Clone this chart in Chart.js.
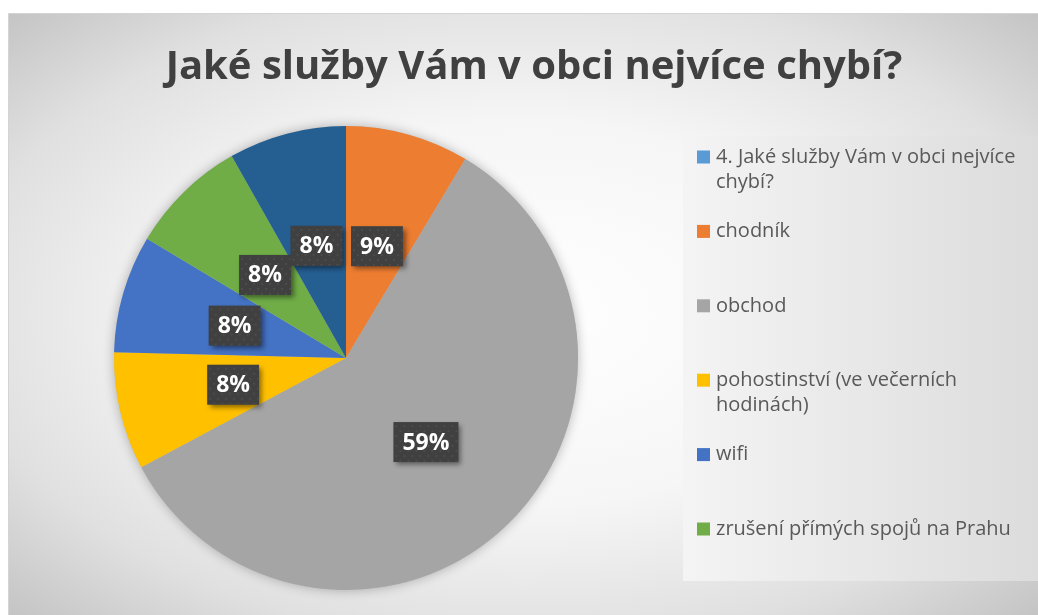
<!DOCTYPE html>
<html>
<head>
<meta charset="utf-8">
<title>Jaké služby Vám v obci nejvíce chybí?</title>
<script src="https://cdn.jsdelivr.net/npm/chart.js@4"></script>
<style>
  html, body { margin: 0; padding: 0; background: #fff; }
</style>
</head>
<body>
<canvas id="chart" width="1038" height="615"></canvas>
<script>
const chartTitle = 'Jaké služby Vám v obci nejvíce chybí?';
const categories = [
  '4. Jaké služby Vám v obci nejvíce chybí?',
  'chodník',
  'obchod',
  'pohostinství (ve večerních hodinách)',
  'wifi',
  'zrušení přímých spojů na Prahu',
  ''
];
const shares = [0, 8.6, 58.6, 8.2, 8.2, 8.2, 8.2];
const sliceColors = ['#5B9BD5', '#ED7D31', '#A5A5A5', '#FFC000', '#4472C4', '#70AD47', '#255E91'];
const legendShown = 6; // the rest of the legend is cut off in the original

const total = shares.reduce((a, b) => a + b, 0);

// grey radial backdrop + lighter legend panel
const backdrop = {
  id: 'backdrop',
  beforeDraw(chart) {
    const ctx = chart.ctx;
    ctx.save();
    ctx.fillStyle = '#fff';
    ctx.fillRect(0, 0, chart.width, chart.height);

    ctx.save();
    ctx.translate(523, 314);
    ctx.scale(515, 301);
    const g = ctx.createRadialGradient(0, 0, 0, 0, 0, 1.414);
    g.addColorStop(0, '#ffffff');
    g.addColorStop(0.45, '#f6f6f6');
    g.addColorStop(0.77, '#e0e0e0');
    g.addColorStop(1, '#c4c4c4');
    ctx.fillStyle = g;
    ctx.fillRect(-1, -1, 2, 2);
    ctx.restore();

    ctx.strokeStyle = '#d4d4d4';
    ctx.lineWidth = 1;
    ctx.strokeRect(8.5, 13.5, 1040, 610);

    const lg = ctx.createLinearGradient(683, 0, 1038, 0);
    lg.addColorStop(0, '#f4f4f4');
    lg.addColorStop(1, '#dcdcdc');
    ctx.fillStyle = lg;
    ctx.fillRect(683, 136, 360, 445);

    // title
    ctx.fillStyle = '#404040';
    ctx.font = 'bold 40px "Open Sans"';
    ctx.textAlign = 'center';
    ctx.textBaseline = 'alphabetic';
    ctx.fillText(chartTitle, 534, 79, 742);
    ctx.restore();
  }
};

// soft shadow under the pie
const pieShadow = {
  id: 'pieShadow',
  beforeDatasetsDraw(chart) {
    const arc = chart.getDatasetMeta(0).data[1];
    if (!arc) return;
    const ctx = chart.ctx;
    ctx.save();
    ctx.shadowColor = 'rgba(0,0,0,0.28)';
    ctx.shadowBlur = 12;
    ctx.fillStyle = '#bbb';
    ctx.beginPath();
    ctx.arc(arc.x, arc.y, arc.outerRadius, 0, Math.PI * 2);
    ctx.fill();
    ctx.restore();
  }
};

// dark percentage boxes
const sliceLabels = {
  id: 'sliceLabels',
  afterDatasetsDraw(chart) {
    const ctx = chart.ctx;
    const meta = chart.getDatasetMeta(0);
    meta.data.forEach((arc, i) => {
      const v = shares[i];
      if (!v) return;
      const p = arc.getCenterPoint();
      const txt = Math.round(v / total * 100) + '%';
      ctx.save();
      ctx.font = 'bold 23px "Open Sans"';
      const w = ctx.measureText(txt).width + 18, h = 40;
      const x0 = p.x - w / 2, y0 = p.y - h / 2;
      ctx.shadowColor = 'rgba(0,0,0,0.45)';
      ctx.shadowBlur = 5;
      ctx.shadowOffsetX = 3;
      ctx.shadowOffsetY = 3;
      ctx.fillStyle = '#404040';
      ctx.fillRect(x0, y0, w, h);
      ctx.restore();

      ctx.save();
      ctx.fillStyle = '#4c4c4c';
      let row = 0;
      for (let dy = 3; dy < h - 1; dy += 5, row++) {
        for (let dx = (row % 2 ? 6 : 2); dx < w - 1; dx += 8) {
          ctx.fillRect(x0 + dx, y0 + dy, 2, 2);
        }
      }
      ctx.fillStyle = '#fff';
      ctx.font = 'bold 23px "Open Sans"';
      ctx.textAlign = 'center';
      ctx.textBaseline = 'middle';
      ctx.fillText(txt, p.x, p.y + 1);
      ctx.restore();
    });
  }
};

function wrapText(ctx, text, maxW) {
  const words = text.split(' ');
  const lines = [];
  let cur = '';
  words.forEach(w => {
    const t = cur ? cur + ' ' + w : w;
    if (ctx.measureText(t).width > maxW && cur) {
      lines.push(cur);
      cur = w;
    } else {
      cur = t;
    }
  });
  if (cur) lines.push(cur);
  return lines;
}

// legend on the right, with wrapped labels
const sideLegend = {
  id: 'sideLegend',
  afterDraw(chart) {
    const ctx = chart.ctx;
    const colors = chart.data.datasets[0].backgroundColor;
    ctx.save();
    ctx.font = '20px "Open Sans"';
    ctx.textAlign = 'left';
    ctx.textBaseline = 'middle';
    for (let i = 0; i < legendShown; i++) {
      const cy = 157 + i * 74.4;
      ctx.fillStyle = colors[i];
      ctx.fillRect(697, cy - 6.5, 13, 13);
      ctx.fillStyle = '#595959';
      wrapText(ctx, chart.data.labels[i], 322).forEach((ln, k) => {
        ctx.fillText(ln, 716, cy + k * 25);
      });
    }
    ctx.restore();
  }
};

new Chart(document.getElementById('chart').getContext('2d'), {
  type: 'pie',
  data: {
    labels: categories,
    datasets: [{
      data: shares,
      backgroundColor: sliceColors,
      borderWidth: 0
    }]
  },
  options: {
    responsive: false,
    animation: false,
    layout: { padding: { top: 126, bottom: 25, left: 114, right: 460 } },
    plugins: {
      legend: { display: false },
      title: { display: false },
      tooltip: { enabled: false }
    }
  },
  plugins: [backdrop, pieShadow, sliceLabels, sideLegend]
});
</script>
</body>
</html>
